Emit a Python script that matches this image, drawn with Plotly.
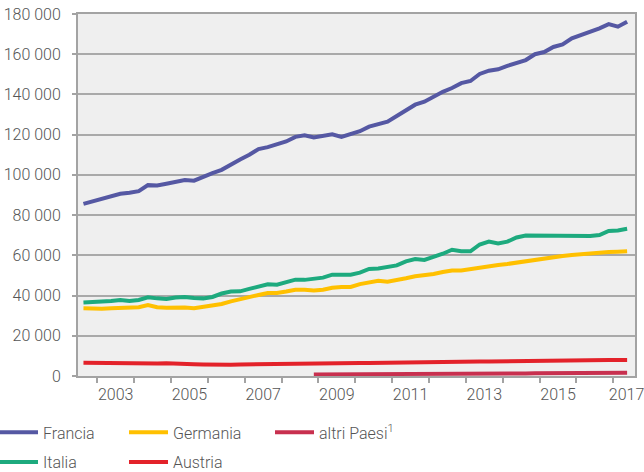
import plotly.graph_objects as go

# Quarterly periods 2002 Q3 .. 2017 Q2
periods = [f"{y}Q{q}" for y in range(2002, 2018) for q in range(1, 5)][2:62]

francia = [85.6, 86.8, 88.1, 89.5, 90.6, 91.1, 91.9, 94.9, 94.7, 95.6,
           96.7, 97.4, 97.1, 99.1, 100.9, 102.5, 105.3, 107.7, 110.0, 112.8,
           113.8, 115.1, 116.6, 118.9, 119.7, 118.6, 119.2, 120.2, 118.9, 120.2,
           121.7, 124.0, 125.4, 126.5, 129.3, 132.3, 134.9, 136.4, 138.9, 141.3,
           143.2, 145.6, 146.7, 150.2, 151.8, 152.5, 154.2, 155.8, 157.1, 160.0,
           161.1, 163.6, 164.9, 167.9, 169.4, 171.0, 172.9, 175.0, 173.7, 176.2]
italia = [36.5, 36.6, 37.0, 37.3, 37.8, 37.3, 37.8, 39.1, 38.6, 38.3,
          39.0, 39.3, 38.8, 38.6, 39.3, 41.0, 42.0, 42.1, 43.3, 44.6,
          45.6, 45.4, 46.9, 47.9, 47.8, 48.4, 48.9, 50.4, 50.5, 50.4,
          51.4, 53.2, 53.5, 54.0, 55.0, 57.0, 58.2, 57.7, 59.0, 60.8,
          62.8, 62.0, 62.0, 65.4, 66.8, 65.9, 66.8, 68.9, 69.8, 69.8,
          69.8, 69.9, 69.9, 69.8, 69.6, 69.6, 70.1, 72.1, 72.4, 73.2]
germania = [33.7, 33.5, 33.5, 33.7, 34.0, 33.9, 34.2, 35.3, 34.2, 33.9,
            34.2, 34.0, 33.7, 34.4, 34.9, 35.8, 37.1, 38.0, 39.3, 40.3,
            41.3, 41.3, 42.0, 42.9, 42.9, 42.5, 42.9, 43.9, 44.3, 44.3,
            45.7, 46.8, 47.4, 46.9, 47.6, 48.6, 49.6, 50.1, 50.7, 51.7,
            52.5, 52.5, 53.2, 54.2, 55.0, 55.2, 55.7, 56.4, 57.2, 57.8,
            58.5, 59.0, 59.7, 60.2, 60.7, 61.0, 61.5, 61.7, 61.8, 62.0]
austria = [6.6, 6.5, 6.4, 6.3, 6.3, 6.2, 6.1, 6.1, 6.2, 6.3,
           6.0, 5.9, 5.8, 5.7, 5.5, 5.5, 5.6, 5.7, 5.8, 5.9,
           6.0, 6.1, 6.2, 6.3, 6.4, 6.3, 6.3, 6.4, 6.4, 6.4,
           6.5, 6.5, 6.6, 6.6, 6.7, 6.8, 6.9, 7.0, 7.0, 7.1,
           7.1, 7.0, 7.1, 7.2, 7.2, 7.3, 7.4, 7.5, 7.5, 7.6,
           7.6, 7.7, 7.7, 7.8, 7.8, 7.9, 7.9, 8.0, 8.0, 8.0]
altri_paesi = [None] * 25 + [0.8, 0.8, 0.8, 0.8, 0.9, 0.9, 0.9, 0.9, 1.0, 1.0,
                             1.0, 1.0, 1.1, 1.1, 1.1, 1.1, 1.2, 1.2, 1.2, 1.2,
                             1.3, 1.3, 1.3, 1.3, 1.4, 1.4, 1.4, 1.4, 1.5, 1.5,
                             1.5, 1.5, 1.6, 1.6, 1.6]

year_labels = ["2003", "2005", "2007", "2009", "2011", "2013", "2015", "2017"]
year_ticks = list(range(2003, 2018))
y_ticks = [0, 20000, 40000, 60000, 80000, 100000, 120000, 140000, 160000, 180000]

# x position: middle of each quarter, in fractional years
xs = [int(p[:4]) + (int(p[5]) - 0.5) / 4 for p in periods]

x_range = [2002.477, 2017.589]
# labels in the middle of each year; the last one is nudged to stay inside the page
label_pos = [min(int(t) + 0.5, 2017.36) for t in year_labels]

def k(vals):
    return [None if v is None else v * 1000 for v in vals]

series = [
    ("Austria", austria, "#e3222a", "legend2", "g4", 4),
    ("altri Paesi<sup>1</sup>", altri_paesi, "#c8304f", "legend3", "g5", 5),
    ("Germania", germania, "#ffc000", "legend2", "g3", 3),
    ("Italia", italia, "#1daa7e", "legend", "g2", 2),
    ("Francia", francia, "#5558a3", "legend", "g1", 1),
]

fig = go.Figure()
for name, vals, color, lg, grp, rank in series:
    fig.add_trace(go.Scatter(
        x=xs, y=k(vals), mode="lines", name=name,
        line=dict(color=color, width=4),
        legend=lg, legendgroup=grp, legendrank=rank,
        connectgaps=False, hoverinfo="skip",
    ))

font_family = "Roboto"
text_color = "#555555"
legend_common = dict(
    orientation="v", xref="paper", yref="container",
    xanchor="left", yanchor="top",
    font=dict(family=font_family, size=16, color=text_color, weight=300),
    bgcolor="rgba(0,0,0,0)", tracegroupgap=6, itemwidth=39,
    itemclick=False, itemdoubleclick=False,
)

fig.update_layout(
    width=644, height=472,
    margin=dict(l=78, r=9, t=14, b=96, autoexpand=False),
    paper_bgcolor="white",
    plot_bgcolor="#efefef",
    separators=", ",
    font=dict(family=font_family, size=16, color=text_color),
    showlegend=True,
    legend=dict(x=-0.1508, y=0.12, **legend_common),
    legend2=dict(x=0.0826, y=0.12, **legend_common),
    legend3=dict(x=0.3447, y=0.12, **legend_common),
    xaxis=dict(
        range=x_range,
        tickmode="array",
        tickvals=label_pos,
        ticktext=year_labels,
        ticks="", showgrid=False, zeroline=False,
        showline=True, linecolor="#a3a3a3", linewidth=2, mirror=True,
        tickfont=dict(family=font_family, size=16, color=text_color, weight=300),
        tickangle=0, automargin=False, ticklabeloverflow="allow",
        ticklabelstandoff=3,
        minor=dict(tickmode="array", tickvals=year_ticks, ticks="outside",
                   ticklen=5, tickwidth=1.5, tickcolor="#a3a3a3", showgrid=False),
    ),
    yaxis=dict(
        range=[0, 180000],
        tickmode="array", tickvals=y_ticks, tickformat=",d",
        ticks="outside", ticklen=4, tickwidth=1.5, tickcolor="#a3a3a3",
        showgrid=True, gridcolor="#a9a9a9", gridwidth=1.5,
        zeroline=False, automargin=False,
        showline=True, linecolor="#a3a3a3", linewidth=2, mirror=True,
        tickfont=dict(family=font_family, size=16, color=text_color, weight=300),
        ticklabelstandoff=8,
    ),
)

fig.write_html("out.html", config={"displayModeBar": False},
               post_script="document.body.style.margin='0px';")
